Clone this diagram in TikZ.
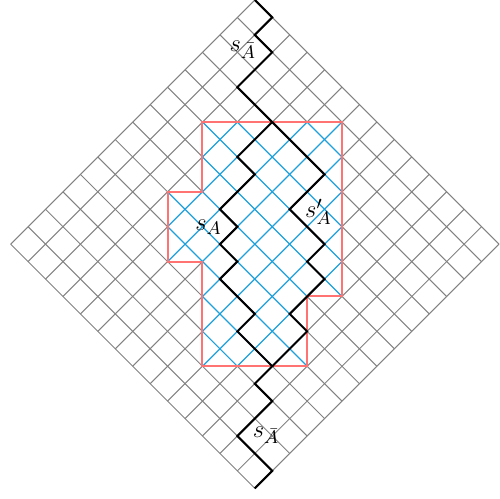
\documentclass[tikz,border=0pt]{standalone}
\usetikzlibrary{positioning}
\definecolor{LatGray}{RGB}{130,130,130}
\definecolor{LatRed}{RGB}{255,115,115}
\definecolor{LatBlue}{RGB}{30,160,220}
\tikzset{
  lat/grid/.style={draw=LatGray, line width=0.5pt},
  lat/inner/.style={draw=LatBlue, line width=0.6pt},
  lat/region/.style={draw=LatRed, line width=1pt},
  lat/walk/.style={draw=black, line width=1pt, line join=miter},
  lat/label/.style={inner sep=1pt, font=\fontsize{13}{15}\selectfont}
}
\newcommand{\RegionPath}{(-3,7) -- (5,7) -- (5,-3) -- (3,-3) -- (3,-7) -- (-3,-7) -- (-3,-1) -- (-5,-1) -- (-5,3) -- (-3,3) -- cycle}

\begin{document}
\begin{tikzpicture}[x=0.3cm,y=0.3cm]
  \useasboundingbox (-14.61,-14.56) rectangle (14.06,14.0);
  % lattice
  \foreach \c in {-14,-12,...,14}{
    \draw[lat/grid] ({(\c-14)/2},{(-14-\c)/2}) -- ({(\c+14)/2},{(14-\c)/2});
    \draw[lat/grid] ({(\c-14)/2},{(\c+14)/2}) -- ({(\c+14)/2},{(\c-14)/2});
  }
  % region
  \fill[white] \RegionPath;
  \begin{scope}
    \clip \RegionPath;
    \foreach \c in {-14,-12,...,14}{
      \draw[lat/inner] ({(\c-14)/2},{(-14-\c)/2}) -- ({(\c+14)/2},{(14-\c)/2});
      \draw[lat/inner] ({(\c-14)/2},{(\c+14)/2}) -- ({(\c+14)/2},{(\c-14)/2});
    }
  \end{scope}
  \draw[lat/region] \RegionPath;
  % walks
  \draw[lat/walk] (0,14) -- (1,13) -- (0,12) -- (1,11) -- (-1,9) -- (1,7)
    -- (-1,5) -- (0,4) -- (-2,2) -- (-1,1) -- (-2,0) -- (-1,-1) -- (-2,-2)
    -- (0,-4) -- (-1,-5) -- (1,-7) -- (0,-8) -- (1,-9) -- (-1,-11) -- (1,-13) -- (0,-14);
  \draw[lat/walk] (1,7) -- (4,4) -- (2,2) -- (4,0) -- (3,-1) -- (4,-2) -- (2,-4) -- (3,-5) -- (1,-7);
  % labels
  \node[lat/label] (sbartop) at (-0.69,11.15) {$s_{\bar A}$};
  \node[lat/label] (sA) at (-2.65,0.95) {$s_A$};
  \node[lat/label] (sAprime) at (3.65,1.85) {$s'_A$};
  \node[lat/label] (sbarbot) at (0.65,-10.95) {$s_{\bar A}$};
\end{tikzpicture}
\end{document}
